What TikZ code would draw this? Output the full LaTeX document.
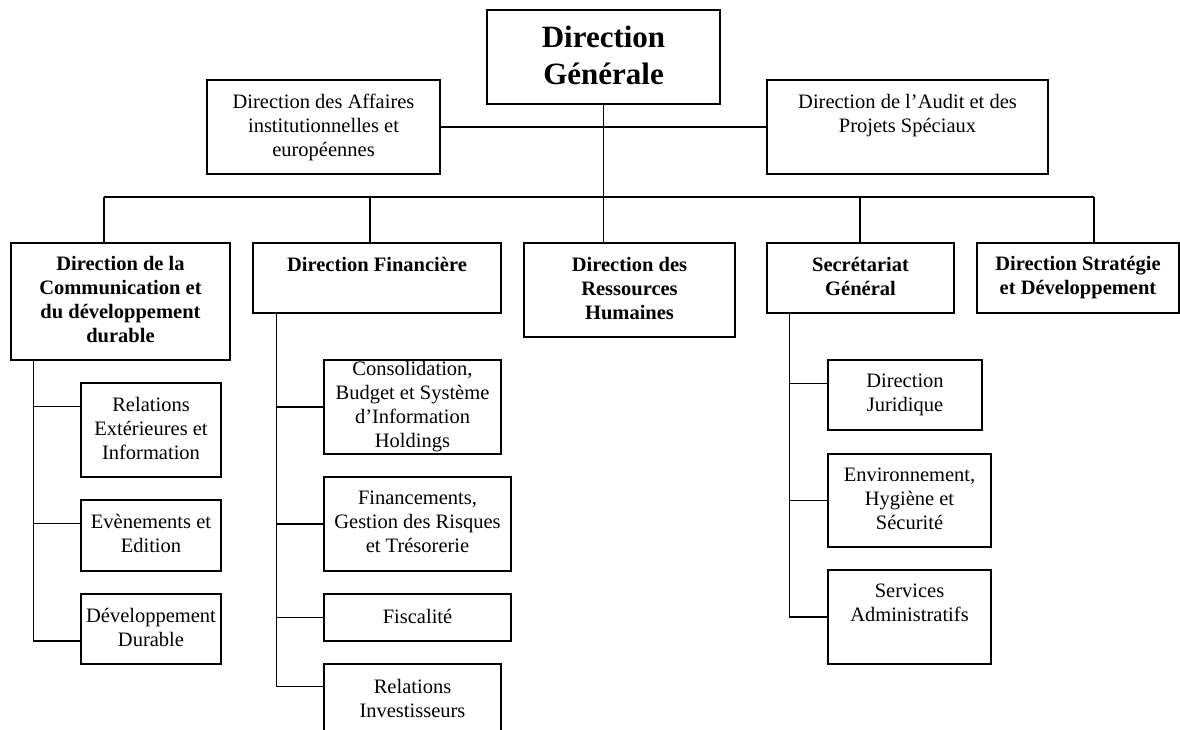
\documentclass[tikz,border=0pt]{standalone}
\usepackage{fontspec}
\setmainfont{Liberation Serif}
\usepackage{tikz}
\newcommand{\orgstrut}{\rule[-4pt]{0pt}{20pt}}
\tikzstyle{orgbox} = [draw,line width=1.3pt,inner sep=0pt,align=center,font=\fontsize{20.5}{24}\selectfont,execute at begin node=\orgstrut,execute at end node=\orgstrut]
\tikzstyle{headbox} = [orgbox,font=\bfseries\fontsize{20.5}{24}\selectfont]
\tikzstyle{link} = [line width=1.3pt]

\begin{document}
\begin{tikzpicture}[x=1pt,y=-1pt]
\useasboundingbox (0,0) rectangle (1180,729);
\clip (0,0) rectangle (1180,729);
\node[orgbox,minimum width=233,minimum height=94,font=\bfseries\fontsize{31}{37}\selectfont] (dg) at (603.5,57) {Direction\\Générale};
\node[orgbox,minimum width=233,minimum height=94] (aff) at (323.5,127) {Direction des Affaires\\institutionnelles et\\européennes};
\node[orgbox,minimum width=281,minimum height=94] (audit) at (907.5,127) {Direction de l’Audit et des\\Projets Spéciaux\\~};
\node[headbox,minimum width=219,minimum height=117] (dcom) at (120.5,301.5) {Direction de la\\Communication et\\du développement\\durable};
\node[headbox,minimum width=248,minimum height=70] (dfin) at (377,278) {Direction Financière\\~};
\node[headbox,minimum width=211,minimum height=94] (drh) at (629.5,290) {Direction des\\Ressources\\Humaines};
\node[headbox,minimum width=187,minimum height=70] (dsg) at (860.5,278) {Secrétariat\\Général};
\node[headbox,minimum width=202,minimum height=70] (dstrat) at (1078,278) {Direction Stratégie\\et Développement};
\node[orgbox,minimum width=140,minimum height=94] (rext) at (151,430) {Relations\\Extérieures et\\Information};
\node[orgbox,minimum width=140,minimum height=71] (even) at (151,535.5) {Evènements et\\Edition};
\node[orgbox,minimum width=140,minimum height=70] (ddur) at (151,629) {Développement\\Durable};
\node[orgbox,minimum width=177,minimum height=94] (conso) at (412.5,407) {Consolidation,\\Budget et Système\\d’Information\\Holdings};
\node[orgbox,minimum width=187,minimum height=94] (finan) at (417.5,524) {Financements,\\Gestion des Risques\\et Trésorerie};
\node[orgbox,minimum width=187,minimum height=47] (fisc) at (417.5,617.5) {Fiscalité};
\node[orgbox,minimum width=177,minimum height=72] (rinv) at (412.5,700) {Relations\\Investisseurs};
\node[orgbox,minimum width=154,minimum height=70] (djur) at (905,395) {Direction\\Juridique};
\node[orgbox,minimum width=163,minimum height=93] (ehs) at (909.5,500.5) {Environnement,\\Hygiène et\\Sécurité};
\node[orgbox,minimum width=163,minimum height=94] (sadm) at (909.5,617) {Services\\Administratifs\\~};
\coordinate (busL) at (104,197);
\coordinate (busR) at (1094,197);
\coordinate (comsp) at ([xshift=23]dcom.south west);
\coordinate (finsp) at ([xshift=24]dfin.south west);
\coordinate (sgsp) at ([xshift=23]dsg.south west);
\draw[link] (aff.east) -- (audit.west);
\draw[link] (dg.south) -- (dg.south |- drh.north);
\draw[link] (busL) -- (busR);
\draw[link] (busL) -- (busL |- dcom.north);
\draw[link] (370,197) -- (370,197 |- dfin.north);
\draw[link] (860,197) -- (860,197 |- dsg.north);
\draw[link] (busR) -- (busR |- dstrat.north);
\draw[link] (comsp) |- ([yshift=-24]rext.north west);
\draw[link] (comsp) |- ([yshift=-24]even.north west);
\draw[link] (comsp) |- ([yshift=-12]ddur.west);
\draw[link] (finsp) |- (conso.west);
\draw[link] (finsp) |- (finan.west);
\draw[link] (finsp) |- (fisc.west);
\draw[link] (finsp) |- ([yshift=-23]rinv.north west);
\draw[link] (sgsp) |- ([yshift=-24]djur.north west);
\draw[link] (sgsp) |- (ehs.west);
\draw[link] (sgsp) |- (sadm.west);
\end{tikzpicture}
\end{document}
